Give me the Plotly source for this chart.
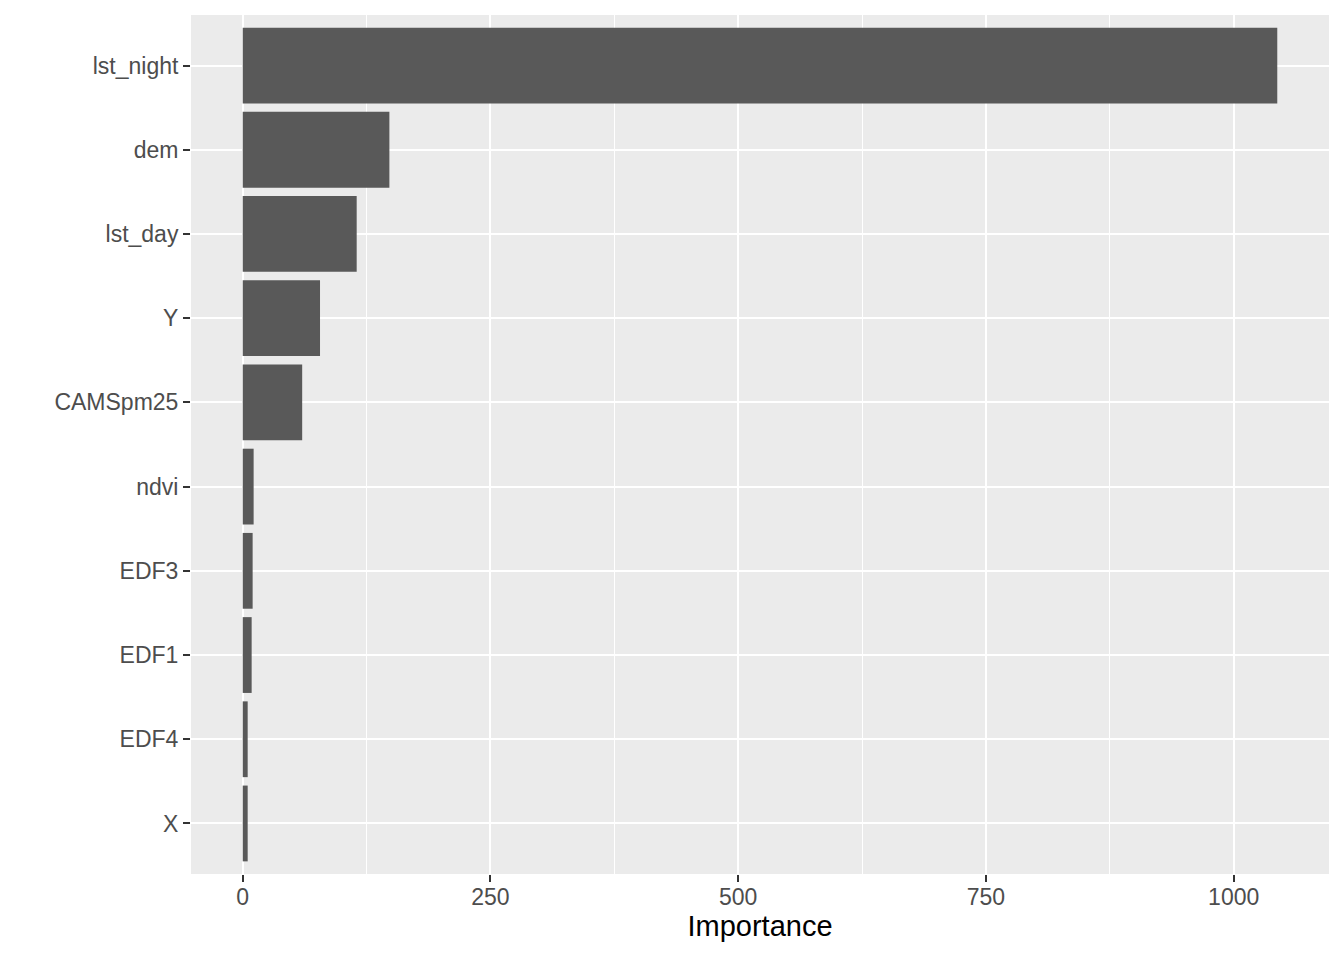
import plotly.graph_objects as go

features = ["lst_night", "dem", "lst_day", "Y", "CAMSpm25", "ndvi", "EDF3", "EDF1", "EDF4", "X"]
importance = [1044, 148, 115, 78, 60, 11, 10, 9, 5, 5]

xmax = max(importance)
pad = 0.05 * xmax

fig = go.Figure(go.Bar(
    x=importance,
    y=features,
    orientation="h",
    width=0.9,
    marker=dict(color="#595959", line=dict(width=0)),
))

# page body adds an 8px offset; compensate so the panel lands where the reference has it
fig.update_layout(
    width=1336, height=952,
    margin=dict(l=183, r=15, t=7, b=86),
    paper_bgcolor="white",
    plot_bgcolor="#EBEBEB",
    font=dict(family="Liberation Sans, Arial, sans-serif", size=23, color="#4D4D4D"),
    showlegend=False,
    bargap=0.1,
)

fig.update_xaxes(
    range=[-pad, xmax + pad],
    tickvals=[0, 250, 500, 750, 1000],
    ticktext=["0", "250", "500", "750", "1000"],
    showgrid=True, gridcolor="white", gridwidth=2.4,
    minor=dict(tickvals=[125, 375, 625, 875], showgrid=True, gridcolor="white", gridwidth=1.2, ticks=""),
    zeroline=False,
    ticks="outside", ticklen=7, tickwidth=2, tickcolor="#333333",
    tickfont=dict(size=23, color="#4D4D4D"),
    ticklabelstandoff=-5,
    showline=False,
    title=dict(text="Importance", font=dict(size=29, color="black"), standoff=7),
    automargin=False,
)

fig.update_yaxes(
    categoryorder="array",
    categoryarray=features[::-1],
    range=[-0.6, len(features) - 0.4],
    showgrid=True, gridcolor="white", gridwidth=2.4,
    zeroline=False,
    ticks="outside", ticklen=7, tickwidth=2, tickcolor="#333333",
    tickfont=dict(size=23, color="#4D4D4D"),
    showline=False,
    automargin=False,
)

fig.write_html("out.html")
